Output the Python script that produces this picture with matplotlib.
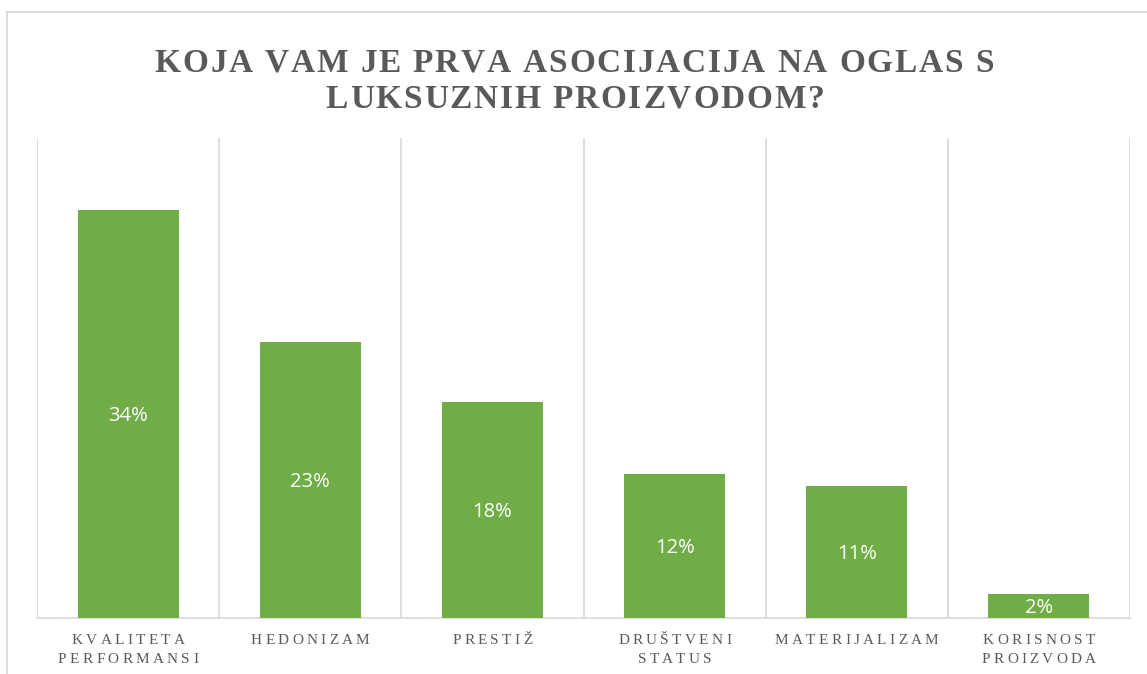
import matplotlib
matplotlib.use('Agg')
import matplotlib.pyplot as plt
from matplotlib.lines import Line2D

categories = [['KVALITETA', 'PERFORMANSI'], ['HEDONIZAM'], ['PRESTIŽ'],
              ['DRUŠTVENI', 'STATUS'], ['MATERIJALIZAM'], ['KORISNOST', 'PROIZVODA']]
values = [34, 23, 18, 12, 11, 2]
value_labels = ['34%', '23%', '18%', '12%', '11%', '2%']
title_lines = ['KOJA VAM JE PRVA ASOCIJACIJA NA OGLAS S', 'LUKSUZNIH PROIZVODOM?']

W, H = 1147, 674
green = '#70AD47'
grid_c = '#D9D9D9'
text_c = '#595959'

fig = plt.figure(figsize=(W / 100, H / 100), dpi=100)
ax = fig.add_axes([37 / W, (H - 618) / H, (1130 - 37) / W, (618 - 138) / H])
x = list(range(len(values)))
bars = ax.bar(x, values, width=0.555, color=green, zorder=3)
for b, lab in zip(bars, value_labels):
    # baseline placed so the digits sit centred in the bar
    ax.annotate(lab, (b.get_x() + b.get_width() / 2, b.get_height() / 2),
                xytext=(0, -5.3), textcoords='offset points', ha='center', va='baseline',
                color='white', fontsize=14.5, family='Open Sans', zorder=4)

ax.set_xlim(-0.5, len(values) - 0.5)
ax.set_ylim(0, 40)
for i in range(len(values) + 1):
    ax.axvline(i - 0.5, color=grid_c, lw=1.2, zorder=1)
for s in ['top', 'left', 'right']:
    ax.spines[s].set_visible(False)
ax.spines['bottom'].set_color(grid_c)
ax.spines['bottom'].set_linewidth(1.2)
ax.set_xticks([])
ax.set_yticks([])

# chart border (cropped)
fig.add_artist(Line2D([7.5 / W, 7.5 / W], [0, 1 - 11.5 / H], color=grid_c, lw=1.3, transform=fig.transFigure))
fig.add_artist(Line2D([7.5 / W, 1], [1 - 11.5 / H, 1 - 11.5 / H], color=grid_c, lw=1.3, transform=fig.transFigure))

renderer = fig.canvas.get_renderer()


def char_width(ch, **kw):
    if ch == ' ':
        a = fig.text(0, 0, 'n n', **kw)
        b = fig.text(0, 0, 'nn', **kw)
        w = a.get_window_extent(renderer).width - b.get_window_extent(renderer).width
        a.remove()
        b.remove()
        return w
    t = fig.text(0, 0, ch, **kw)
    w = t.get_window_extent(renderer).width
    t.remove()
    return w


def spaced_text(xc, y, s, spacing, **kw):
    ws = [char_width(c, **kw) for c in s]
    total = sum(ws) + spacing * (len(s) - 1)
    xp = xc - total / 2
    for c, w in zip(s, ws):
        if c != ' ':
            fig.text(xp / W, 1 - y / H, c, ha='left', va='baseline', **kw)
        xp += w + spacing


tkw = dict(fontsize=24, family='Liberation Serif', weight='bold', color=text_c)
spaced_text(574, 72, title_lines[0], 1.8, **tkw)
spaced_text(575, 108, title_lines[1], 1.8, **tkw)

lkw = dict(fontsize=11, family='Liberation Serif', color=text_c)
cat_w = (1130 - 37) / len(values)
for i, lines in enumerate(categories):
    xc = 37 + cat_w * (i + 0.5)
    for j, line in enumerate(lines):
        spaced_text(xc, 644 + 19 * j, line, 3.3, **lkw)

fig.savefig('out.png', dpi=100)
